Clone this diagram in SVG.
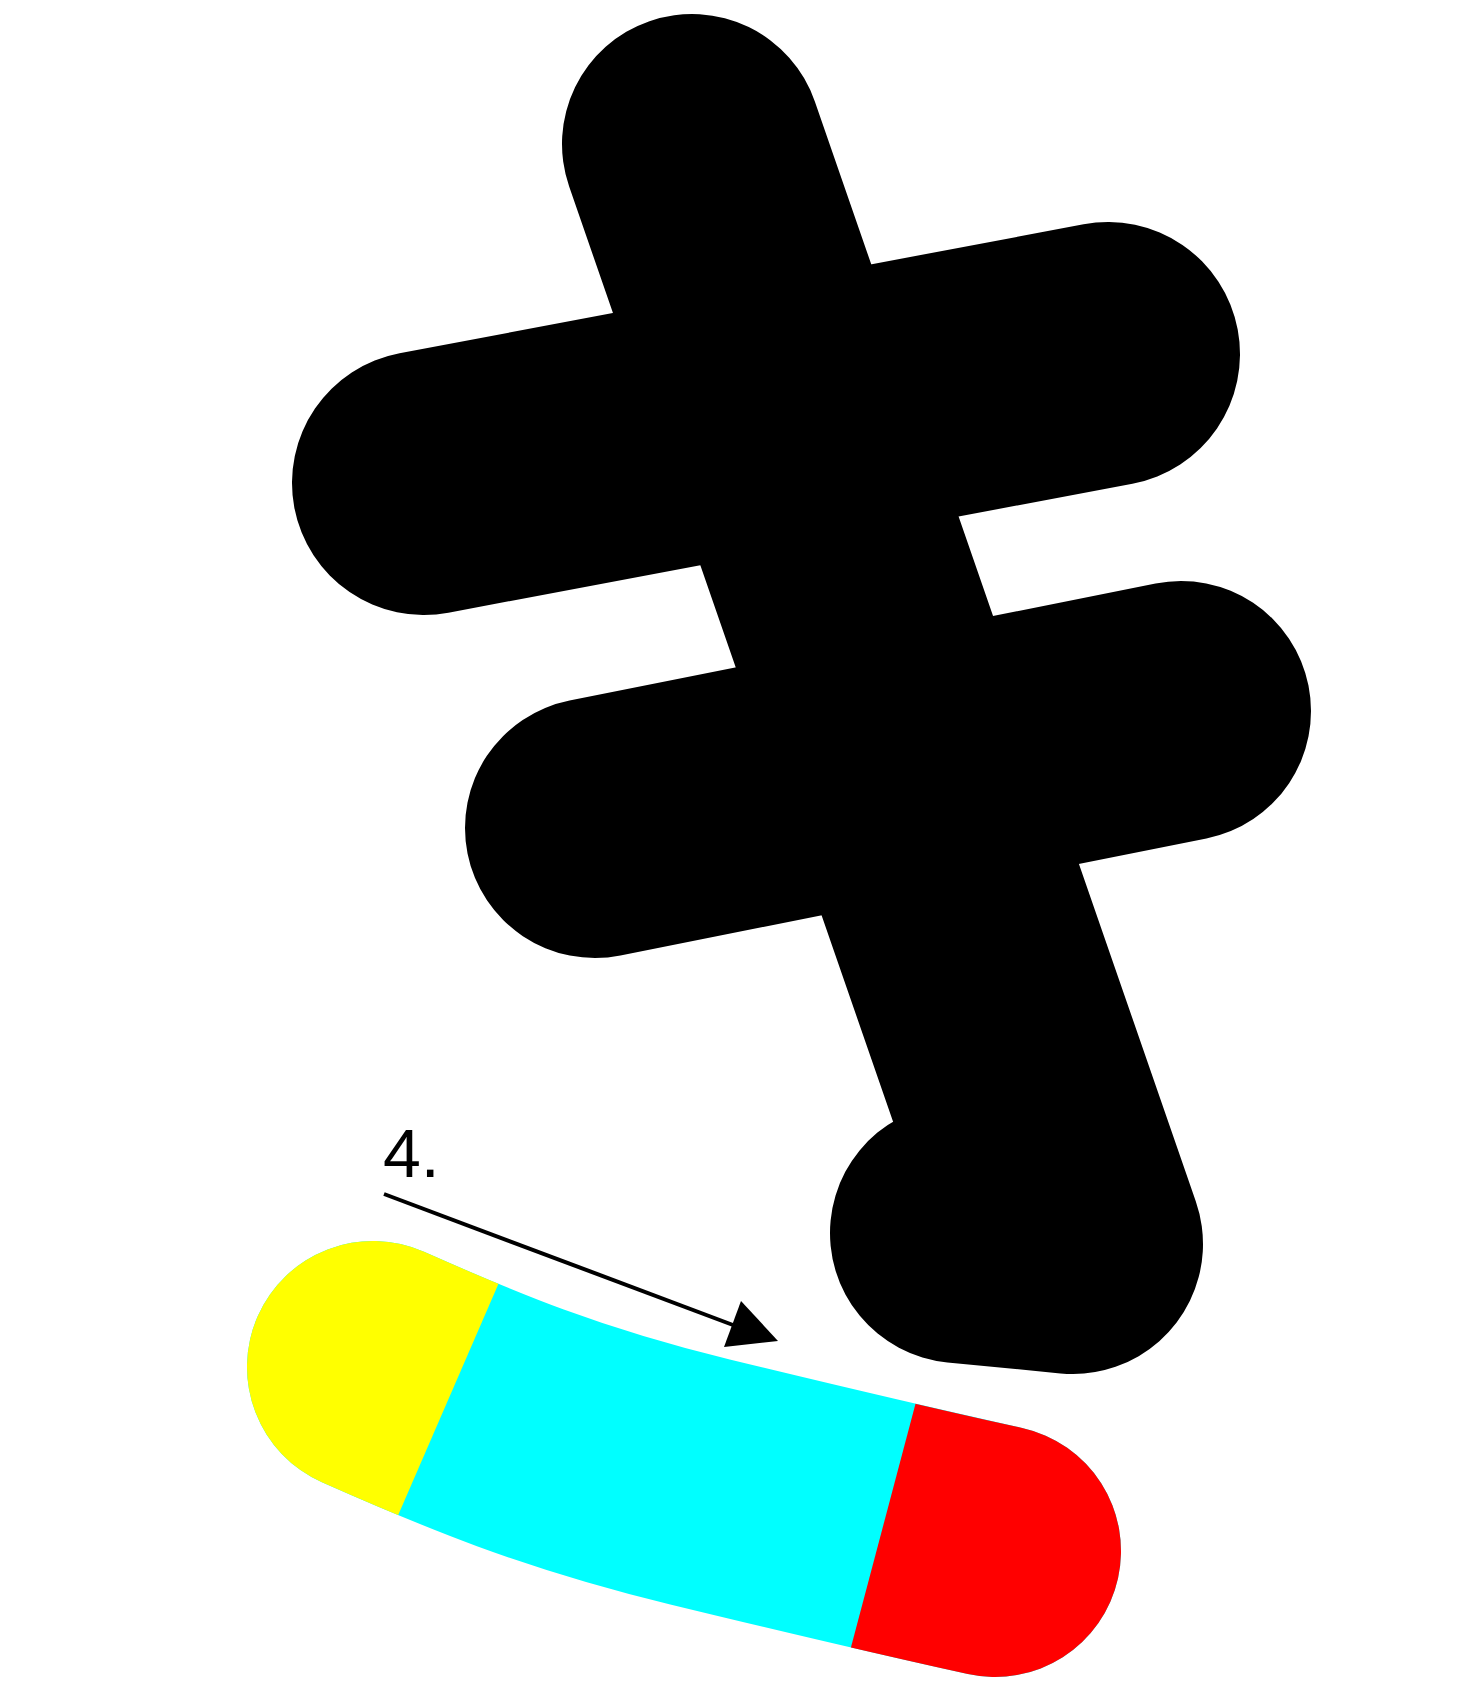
<svg xmlns="http://www.w3.org/2000/svg" width="1474" height="1701" viewBox="0 0 1474 1701">
<style>
.blk{fill:none;stroke:#000;stroke-linecap:round;stroke-linejoin:round}
.band{fill:none;stroke-width:252;stroke-linecap:round;stroke-linejoin:round}
.lbl{font-family:"Liberation Sans",Arial,sans-serif;font-size:68px;fill:#000}
</style>
<defs>
<clipPath id="cy"><polygon points="563,1135 331,1670 0,1670 0,1135"/></clipPath>
<clipPath id="cr"><polygon points="943,1300 837,1700 1474,1700 1474,1300"/></clipPath>
</defs>
<rect width="1474" height="1701" fill="#fff"/>
<g id="stroke1"><path class="blk" stroke-width="264" d="M424,483 L1108,354"/></g>
<g id="stroke2"><path class="blk" stroke-width="260" d="M595,828 L1181,711"/></g>
<g id="stroke3"><path class="blk" stroke-width="260" d="M692,144 L1073,1244 L960,1233"/></g>
<g id="stroke4">
<path class="band" stroke="#00ffff" d="M373,1367 C470,1410 560,1448 700,1482 S900,1530 995,1551"/>
<path class="band" stroke="#ffff00" clip-path="url(#cy)" d="M373,1367 C470,1410 560,1448 700,1482 S900,1530 995,1551"/>
<path class="band" stroke="#ff0000" clip-path="url(#cr)" d="M373,1367 C470,1410 560,1448 700,1482 S900,1530 995,1551"/>
</g>
<g id="connectors">
<line x1="384" y1="1194" x2="733" y2="1325" stroke="#000" stroke-width="4"/>
<polygon points="778,1341 741,1301 724,1347" fill="#000"/>
</g>
<g id="label"><text class="lbl" x="383" y="1177">4.</text></g>
</svg>
